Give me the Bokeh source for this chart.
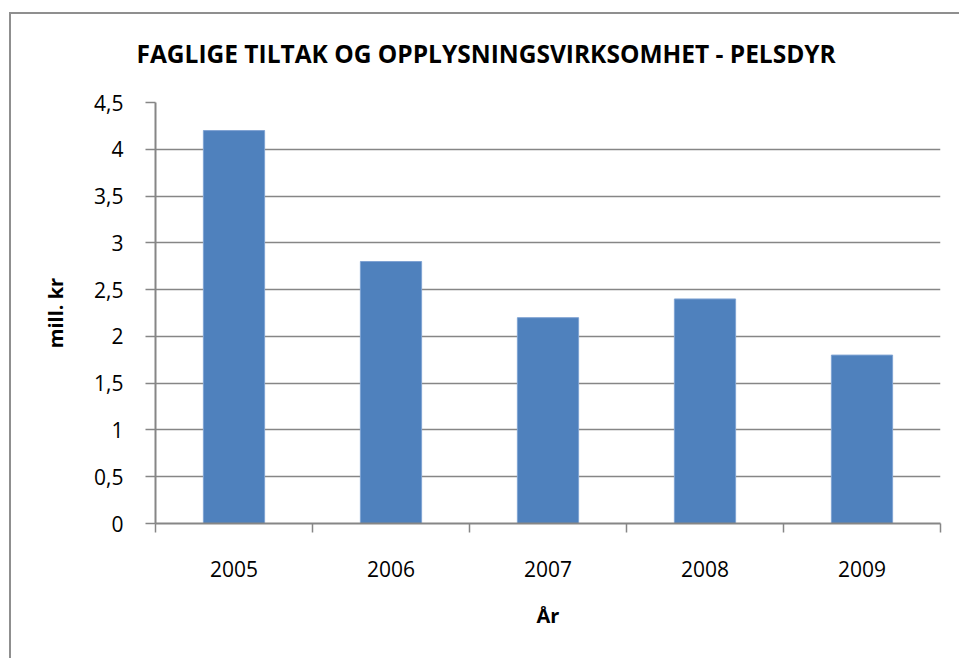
from bokeh.plotting import figure
from bokeh.models import FixedTicker, Range1d, Title
from bokeh.embed import file_html
from bokeh.resources import INLINE

years = ["2005", "2006", "2007", "2008", "2009"]
values = [4.2, 2.8, 2.2, 2.4, 1.8]
y_ticks = [0, 0.5, 1, 1.5, 2, 2.5, 3, 3.5, 4, 4.5]
y_tick_labels = ["0", "0,5", "1", "1,5", "2", "2,5", "3", "3,5", "4", "4,5"]
title_text = "FAGLIGE TILTAK OG OPPLYSNINGSVIRKSOMHET - PELSDYR"
x_label = "År"
y_label = "mill. kr"

xpos = [i + 0.5 for i in range(len(years))]

p = figure(width=959, height=658, output_backend="svg", toolbar_location=None,
           x_range=Range1d(0, len(years)), y_range=Range1d(0, 4.5))
p.margin = (0, 0, 0, 0)
# chart-area border (top and left edges; the rest lies outside the picture)
p.styles = {
    "background-image": "linear-gradient(#8f8f8f,#8f8f8f), linear-gradient(#8f8f8f,#8f8f8f)",
    "background-size": "100% 2px, 2px 100%",
    "background-position": "9px 12px, 9px 12px",
    "background-repeat": "no-repeat",
}
p.min_border_left = 155
p.min_border_right = 19
p.min_border_top = 102
p.min_border_bottom = 135
p.outline_line_color = None
p.background_fill_color = "white"
p.border_fill_alpha = 0

p.vbar(x=xpos, top=values, width=0.39, bottom=0,
       fill_color="#4F81BD", line_color="#7FA3D3", line_width=1)

t = Title(text=title_text, align="left", offset=-19, standoff=66,
          text_font="Open Sans", text_font_size="24.5px",
          text_font_style="bold", text_color="black")
p.add_layout(t, "above")

gray = "#868686"
# y axis
p.yaxis.ticker = FixedTicker(ticks=y_ticks)
p.yaxis.major_label_overrides = {t_: l for t_, l in zip(y_ticks, y_tick_labels)}
p.yaxis.major_tick_in = 0
p.yaxis.major_tick_out = 10
p.yaxis.minor_tick_line_color = None
p.yaxis.axis_line_color = gray
p.yaxis.axis_line_width = 2
p.yaxis.major_tick_line_color = gray
p.yaxis.major_tick_line_width = 1.5
p.yaxis.major_label_text_font = "Open Sans"
p.yaxis.major_label_text_font_size = "21px"
p.yaxis.major_label_text_color = "black"
p.yaxis.major_label_standoff = 22
p.yaxis.axis_label = y_label
p.yaxis.axis_label_text_font = "Open Sans"
p.yaxis.axis_label_text_font_size = "20px"
p.yaxis.axis_label_text_font_style = "bold"
p.yaxis.axis_label_text_color = "black"
p.yaxis.axis_label_standoff = 22

# x axis: labels at centers, ticks at boundaries (minor)
p.xaxis.ticker = FixedTicker(ticks=xpos, minor_ticks=list(range(len(years) + 1)))
p.xaxis.major_label_overrides = {x: y for x, y in zip(xpos, years)}
p.xaxis.major_tick_line_color = None
p.xaxis.major_tick_in = 0
p.xaxis.major_tick_out = 0
p.xaxis.minor_tick_in = 0
p.xaxis.minor_tick_out = 9
p.xaxis.minor_tick_line_color = gray
p.xaxis.minor_tick_line_width = 1.5
p.xaxis.axis_line_color = gray
p.xaxis.axis_line_width = 2
p.xaxis.major_label_text_font = "Open Sans"
p.xaxis.major_label_text_font_size = "21px"
p.xaxis.major_label_text_color = "black"
p.xaxis.major_label_standoff = 28
p.xaxis.axis_label = x_label
p.xaxis.axis_label_text_font = "Open Sans"
p.xaxis.axis_label_text_font_size = "20px"
p.xaxis.axis_label_text_font_style = "bold"
p.xaxis.axis_label_text_color = "black"
p.xaxis.axis_label_standoff = 22

p.xgrid.grid_line_color = None
p.ygrid.ticker = FixedTicker(ticks=y_ticks[1:])
p.ygrid.grid_line_color = gray
p.ygrid.grid_line_width = 1.5

open("out.html", "w").write(file_html(p, INLINE))
